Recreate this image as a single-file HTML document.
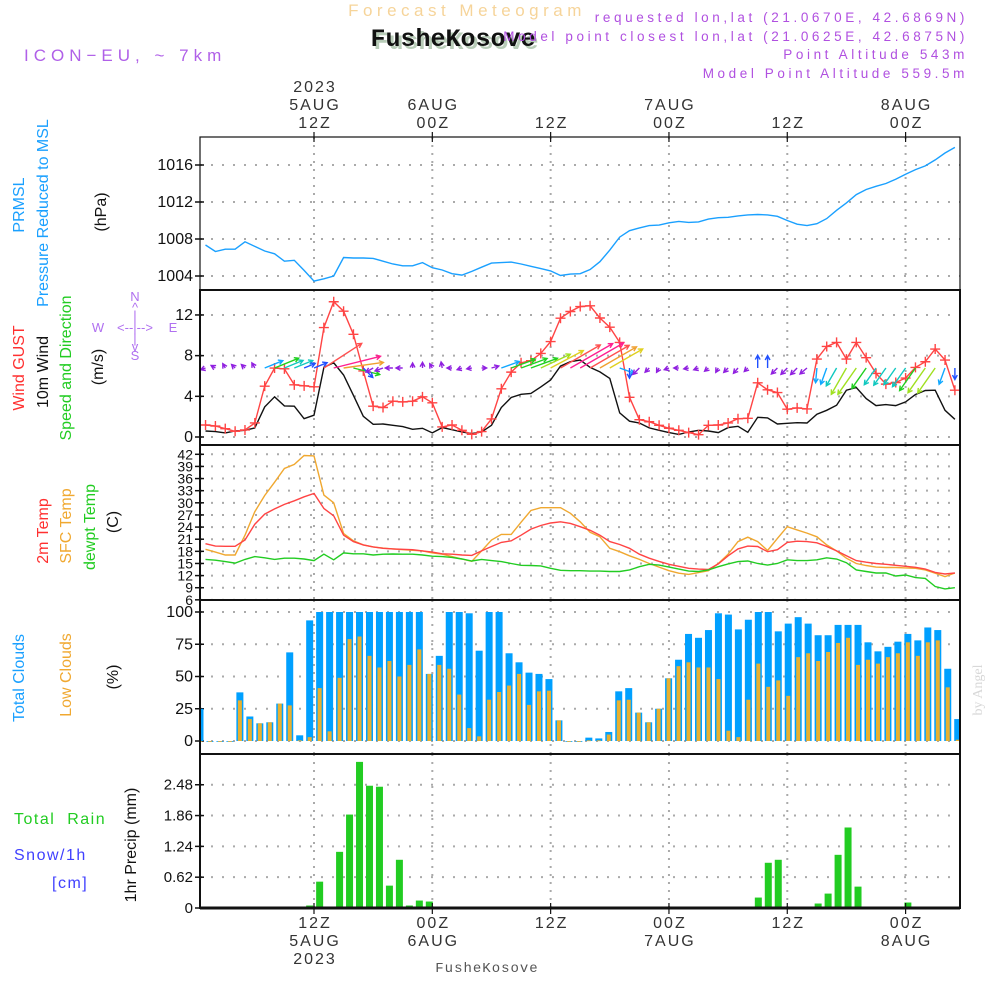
<!DOCTYPE html>
<html><head><meta charset="utf-8"><title>Forecast Meteogram FusheKosove</title>
<style>
html,body{margin:0;padding:0;background:#fff;}
svg{display:block;font-family:"Liberation Sans",sans-serif;}
</style></head>
<body>
<svg id="chart" width="1000" height="1000" viewBox="0 0 1000 1000" xmlns="http://www.w3.org/2000/svg">
<rect x="0" y="0" width="1000" height="1000" fill="#fff"/>
<!-- header -->
<text x="467" y="16" text-anchor="middle" font-size="17" fill="#f6d49a" letter-spacing="4.5">Forecast Meteogram</text>
<text x="456" y="49" text-anchor="middle" font-size="25" font-weight="bold" font-family="Liberation Mono, monospace" fill="#b8ccb8">FusheKosove</text>
<text x="453" y="46" text-anchor="middle" font-size="25" font-weight="bold" font-family="Liberation Mono, monospace" fill="#111">FusheKosove</text>
<text x="24" y="61" font-size="17" fill="#b060e8" letter-spacing="5">ICON−EU, ~ 7km</text>
<g fill="#b050e0" font-size="13.5" text-anchor="end" letter-spacing="3.6">
<text x="968" y="22">requested lon,lat (21.0670E, 42.6869N)</text>
<text x="968" y="41">Model point closest lon,lat (21.0625E, 42.6875N)</text>
<text x="968" y="59">Point Altitude 543m</text>
<text x="968" y="78">Model Point Altitude 559.5m</text>
</g>
<!-- left labels -->
<g font-size="16">
<text transform="translate(24,205) rotate(-90)" text-anchor="middle" fill="#1aa0ff">PRMSL</text>
<text transform="translate(48,213) rotate(-90)" text-anchor="middle" fill="#1aa0ff">Pressure Reduced to MSL</text>
<text transform="translate(106,212) rotate(-90)" text-anchor="middle" fill="#111">(hPa)</text>
<text transform="translate(24,368) rotate(-90)" text-anchor="middle" fill="#ff3030">Wind GUST</text>
<text transform="translate(48,372) rotate(-90)" text-anchor="middle" fill="#111">10m Wind</text>
<text transform="translate(71,368) rotate(-90)" text-anchor="middle" fill="#22cc22">Speed and Direction</text>
<text transform="translate(103,367) rotate(-90)" text-anchor="middle" fill="#111">(m/s)</text>
<text transform="translate(48,531) rotate(-90)" text-anchor="middle" fill="#ff3030">2m Temp</text>
<text transform="translate(71,526) rotate(-90)" text-anchor="middle" fill="#f0a830">SFC Temp</text>
<text transform="translate(95,527) rotate(-90)" text-anchor="middle" fill="#22cc22">dewpt Temp</text>
<text transform="translate(118,522) rotate(-90)" text-anchor="middle" fill="#111">(C)</text>
<text transform="translate(24,678) rotate(-90)" text-anchor="middle" fill="#1aa0ff">Total Clouds</text>
<text transform="translate(71,675) rotate(-90)" text-anchor="middle" fill="#f0a830">Low Clouds</text>
<text transform="translate(118,677) rotate(-90)" text-anchor="middle" fill="#111">(%)</text>
<text transform="translate(136,845) rotate(-90)" text-anchor="middle" fill="#111">1hr Precip (mm)</text>
<text x="14" y="824" fill="#22cc22" letter-spacing="1.5" xml:space="preserve">Total  Rain</text>
<text x="14" y="860" fill="#4040ff" letter-spacing="1.5">Snow/1h</text>
<text x="52" y="888" fill="#4040ff" letter-spacing="1.5">[cm]</text>
</g>
<g fill="#b070f0" font-size="13" text-anchor="middle">
<text x="135" y="301">N</text><text x="135" y="312">^</text><text x="135" y="320">|</text>
<text x="98" y="332">W</text><text x="135" y="332">&lt;--|--&gt;</text><text x="173" y="332">E</text>
<text x="135" y="343">|</text><text x="135" y="351">v</text><text x="135" y="360">S</text>
</g>
<text transform="translate(982,690) rotate(-90)" text-anchor="middle" font-size="14" fill="#d8d8d8" font-family="Liberation Serif, serif">by Angel</text>
<text x="487" y="972" text-anchor="middle" font-size="14" fill="#555" font-family="Liberation Mono, monospace" letter-spacing="1">FusheKosove</text>
<g id="layer"></g>
</svg>
<script>
// ---------- data ----------
const timeTickHours = [12, 24, 36, 48, 60, 72];
const topTickLabels = [["2023","5AUG","12Z"],["6AUG","00Z"],["12Z"],["7AUG","00Z"],["12Z"],["8AUG","00Z"]];
const bottomTickLabels = [["12Z","5AUG","2023"],["00Z","6AUG"],["12Z"],["00Z","7AUG"],["12Z"],["00Z","8AUG"]];
const pressure = [1007.35,1006.65,1006.9,1006.9,1007.7,1007.2,1006.7,1006.4,1005.6,1005.7,1004.6,1003.45,1003.7,1004,1006,1005.95,1005.95,1005.9,1005.6,1005.3,1005.1,1005.1,1005.45,1004.9,1004.65,1004.25,1004.1,1004.5,1004.95,1005.4,1005.45,1005.5,1005.3,1005.05,1004.8,1004.55,1004.05,1004.2,1004.25,1004.7,1005.55,1006.8,1008.2,1008.9,1009.2,1009.45,1009.5,1009.75,1009.9,1009.8,1009.85,1010.15,1010.3,1010.35,1010.5,1010.6,1010.65,1010.6,1010.45,1010,1009.6,1009.45,1009.65,1010.2,1011.1,1011.9,1012.8,1013.35,1013.7,1014,1014.45,1015,1015.5,1015.9,1016.55,1017.3,1017.9];
const pressureTicks = [1004, 1008, 1012, 1016];
const windGust = [1.18,1.08,0.82,0.56,0.69,1.38,5,6.78,6.7,5.13,5.03,4.93,10.76,13.3,12.37,10.1,6.5,3.03,2.9,3.52,3.45,3.52,3.95,3.36,0.99,1.18,0.66,0.26,0.53,1.78,4.74,6.38,7.3,7.5,8.22,9.38,11.68,12.34,12.83,12.9,11.7,10.8,9.3,3.9,1.7,1.5,1.15,0.86,0.66,0.43,0.23,1.15,1.18,1.38,1.8,1.84,5.33,4.64,4.37,2.73,2.86,2.76,7.66,8.9,9.3,7.66,9.3,7.8,6.25,5.2,5.36,5.8,6.84,7.4,8.65,7.57,4.6];
const wind10m = [0.59,0.53,0.4,0.59,0.66,0.89,2.96,3.95,3.06,3.03,1.8,2.14,6.84,7.3,6.1,4.1,2.04,1.25,1.28,1.15,1.02,0.76,0.86,0.4,0.92,0.72,0.49,0.33,0.49,1.15,2.9,3.88,4.2,4.28,4.93,5.6,6.97,7.4,7.57,6.84,6.4,5.76,2.37,1.55,1.38,0.89,0.66,0.43,0.26,0.49,0.66,0.59,0.43,0.92,1.05,0.46,1.94,1.88,1.28,1.35,1.41,1.38,2.24,2.63,3.13,4.6,4.87,3.78,3.09,3.19,3.09,3.45,4.18,4.57,4.6,2.63,1.74];
const windDirTo = [200,150,120,135,135,120,22,22,22,22,22,22,33,14,8,-14,-45,210,200,180,180,90,90,120,100,180,200,190,0,15,20,20,20,20,25,28,30,30,30,30,30,30,-20,270,225,225,240,200,180,190,200,220,240,225,230,225,90,90,225,225,225,220,265,250,240,240,235,235,235,235,235,235,235,235,235,250,270];
const windTicks = [0, 4, 8, 12];
const temp2m = [19.9,19.3,19.25,19.25,20.8,24.7,27.2,28.5,29.6,30.5,31.5,32.3,28.6,26.8,22,20.4,19.6,19.1,18.75,18.6,18.5,18.4,18.1,17.8,17.4,17.3,17.1,17,18.1,19.2,20.2,20.6,22,23.5,24.4,25,25.3,24.9,24.1,23.2,22,20.4,19.7,18.75,17.3,16.3,15.5,14.8,14.3,13.8,13.6,13.5,14.9,16.9,18.6,19.3,19.2,17.9,18.4,20.2,20.5,20.4,20.1,19.2,18.1,16.9,15.7,15.3,15,14.8,14.55,14.3,14.05,13.6,12.8,12.4,12.65];
const tempSfc = [18.5,17.8,17.1,17.1,22,27.8,31.8,35.1,38.5,39.5,41.7,41.6,31.9,30,22.4,20.6,19.6,19.1,18.8,18.6,18.4,18.25,18.1,17.6,17.3,16.7,16.1,15.5,18.1,20.8,22.2,22.2,25.2,28.1,28.8,28.8,28.8,27.4,25.3,22.7,21.6,18.75,17.9,16.9,16,15,14.1,13.2,12.6,12.3,12.75,13.2,15,17.3,20.4,21.5,20.4,18.2,21.2,24.1,23.3,22.5,21.6,19.6,18.1,16.3,15,14.5,14.1,14,14,13.9,13.8,13.4,12.6,11.75,12.65];
const dewpoint = [16,15.8,15.45,15.1,16,16.7,16.4,16,16.3,16.3,16.1,15.7,17.3,15.9,17.6,17.4,17.4,17.1,17.3,17.35,17.3,17.3,17.1,16.8,16.7,16.5,16.1,15.6,16,15.7,15.45,15,14.55,14.5,14.4,13.8,13.3,13.2,13.2,13.1,13.1,13,13,13.4,14.2,14.8,14.6,14.1,13.6,13.1,13,13.4,14.2,14.9,15.45,15.6,15,14.6,15,15.9,15.7,15.7,15.9,16.4,16.1,15.2,13.4,13,12.65,12.65,11.9,12.15,11.5,11.3,9.3,8.7,9];
const tempTicks = [42,39,36,33,30,27,24,21,18,15,12,9,6];
const totalClouds = [25,0,0,0,37.7,19,13.7,14.5,29,68.7,4.4,93.5,100,100,100,100,100,100,100,100,100,100,100,52,66,100,100,99,70,100,100,68,61,53,52,48,16,0,0,2.6,2,7,38.5,41,22,14.5,25,48.6,63,83,80,86,99,98,86.5,94,100,100,85,91,96,91,82,82,90,90,90,76.5,69.5,73,77,83,78,88,86,56,17];
const lowClouds = [0,0,0,0,31.5,17,13.7,14.5,29,27.6,0.5,3,41,7.5,49,79,81,66,57,62,50,59,71,52,59,56,36,10,3.6,32,38,43,52,28,38.5,39,16,0,0,0.5,0.5,5,31.5,32,22,14.5,25,48.6,58,61,57,57,48,8,3,32,60,42,47,35,65,68,62,69,76,80,59,63,60,65,68,76.5,66,76.5,78,41.6,1];
const cloudTicks = [0, 25, 50, 75, 100];
const precip = [0,0,0,0,0,0,0,0,0,0,0,0.05,0.53,0,1.13,1.88,2.94,2.46,2.44,0.45,0.97,0.05,0.15,0.13,0,0,0,0,0,0,0,0,0,0,0,0,0,0,0,0,0,0,0,0,0,0,0,0,0,0,0,0,0,0,0,0,0.21,0.91,0.97,0,0,0,0.09,0.29,1.07,1.62,0.43,0,0,0,0,0.11,0,0,0,0,0];
const precipTicks = [0, 0.62, 1.24, 1.86, 2.48];
const precipTickLabels = ["0","0.62","1.24","1.86","2.48"];

// ---------- scales ----------
const X0 = 200, X1 = 960;
function xh(h){ return 314 + (h - 12) * 9.86; }
function xb(i){ return 200 + 9.97 * i; }
function yP(p){ return 276 - (p - 1004) * 9.25; }
function yW(v){ return 437 - v * 10.17; }
function yT(t){ return 454.3 + (42 - t) * 4.043; }
function yC(c){ return 741 - c * 1.29; }
function yR(r){ return 908 - r * 49.7; }
const panels = [[137,290],[290,445],[445,600],[600,754],[754,908]];

const NS = "http://www.w3.org/2000/svg";
const layer = document.getElementById("layer");
function mk(tag, attrs, parent){
  const e = document.createElementNS(NS, tag);
  for (const k in attrs) e.setAttribute(k, attrs[k]);
  (parent || layer).appendChild(e);
  return e;
}
function clipRect(id, y0, y1){
  const cp = mk("clipPath", {id: id});
  mk("rect", {x: X0, y: y0, width: X1 - X0, height: y1 - y0}, cp);
}
panels.forEach((p, k) => clipRect("clip" + k, p[0], p[1]));

function hGrid(y){
  const l = mk("line", {x1: X0, x2: X1, y1: y, y2: y, stroke: "#aaa", "stroke-width": 2, "stroke-dasharray": "2,9"});
  
  
}
function tickLabel(y, txt, size){
  const t = mk("text", {x: 193, y: y + 5, "text-anchor": "end", "font-size": size || 16, fill: "#111"});
  t.textContent = txt;
  
  
  const tk = mk("line", {x1: X0 - 5, x2: X0 + 4, y1: y, y2: y, stroke: "#111", "stroke-width": 1.5});
  
  
}
panels.forEach(p => {
  timeTickHours.forEach(h => {
    const l = mk("line", {x1: xh(h), x2: xh(h), y1: p[0], y2: p[1], stroke: "#aaa", "stroke-width": 2, "stroke-dasharray": "2,6"});
    
    
  });
});
pressureTicks.forEach(v => { hGrid(yP(v)); tickLabel(yP(v), String(v)); });
windTicks.forEach(v => { hGrid(yW(v)); tickLabel(yW(v), String(v)); });
tempTicks.forEach(v => { hGrid(yT(v)); tickLabel(yT(v), String(v), 14); });
cloudTicks.forEach(v => { hGrid(yC(v)); tickLabel(yC(v), String(v)); });
precipTicks.forEach((v, i) => { hGrid(yR(v)); tickLabel(yR(v), precipTickLabels[i], 15); });

function line(values, yf, color, name, clip){
  const pts = values.map((v, i) => xh(i + 1).toFixed(1) + "," + yf(v).toFixed(1)).join(" ");
  const pl = mk("polyline", {points: pts, fill: "none", stroke: color, "stroke-width": 1.4, "clip-path": "url(#" + clip + ")"});
  
  
  return pl;
}

line(pressure, yP, "#1aa0ff", "pressure-line", "clip0");

line(wind10m, yW, "#111", "wind-10m-line", "clip1");
line(windGust, yW, "#ff4444", "wind-gust-line", "clip1");
windGust.forEach((v, i) => {
  const x = xh(i + 1), y = yW(v);
  const g = mk("path", {d: `M${x-5},${y}H${x+5}M${x},${y-5}V${y+5}`, stroke: "#ff4444", "stroke-width": 1.4, "clip-path": "url(#clip1)"});
  
  
});
function windColor(s){
  if (s < 1.5) return "#9020e0";
  if (s < 2.2) return "#2050ff";
  if (s < 3.0) return "#10a8ff";
  if (s < 3.6) return "#10c8c0";
  if (s < 4.3) return "#20d020";
  if (s < 5.0) return "#a0e020";
  if (s < 5.8) return "#e0d020";
  if (s < 6.8) return "#f0a030";
  if (s < 7.2) return "#ff5050";
  return "#ff2090";
}
wind10m.forEach((s, i) => {
  const x = xh(i + 1), y = 368;
  const a = windDirTo[i] * Math.PI / 180;
  const L = Math.max(5, s * 6.6);
  const x2 = x + L * Math.cos(a), y2 = y - L * Math.sin(a);
  const hl = 5, ha = 0.5;
  const b1x = x2 - hl * Math.cos(a - ha), b1y = y2 + hl * Math.sin(a - ha);
  const b2x = x2 - hl * Math.cos(a + ha), b2y = y2 + hl * Math.sin(a + ha);
  const c = windColor(s);
  const p = mk("path", {d: `M${x.toFixed(1)},${y}L${x2.toFixed(1)},${y2.toFixed(1)}M${b1x.toFixed(1)},${b1y.toFixed(1)}L${x2.toFixed(1)},${y2.toFixed(1)}L${b2x.toFixed(1)},${b2y.toFixed(1)}`, stroke: c, "stroke-width": 1.4, fill: "none", "clip-path": "url(#clip1)"});
  
  
});

line(tempSfc, yT, "#f0a830", "sfc-temp-line", "clip2");
line(temp2m, yT, "#ff4444", "temp-2m-line", "clip2");
line(dewpoint, yT, "#22cc22", "dewpoint-line", "clip2");

totalClouds.forEach((v, i) => {
  const x = xb(i);
  const r = mk("rect", {x: x - 3.5, y: yC(v), width: 7, height: Math.max(0.8, yC(0) - yC(v)), fill: "#00a0ff", "clip-path": "url(#clip3)"});
  
  
});
lowClouds.forEach((v, i) => {
  const x = xb(i);
  const r = mk("rect", {x: x - 2, y: yC(v), width: 4, height: Math.max(0.8, yC(0) - yC(v)), fill: "#e8b030", "clip-path": "url(#clip3)"});
  
  
});

precip.forEach((v, i) => {
  if (v <= 0) return;
  const x = xb(i);
  const r = mk("rect", {x: x - 3.5, y: yR(v), width: 7, height: yR(0) - yR(v), fill: "#22cc22", "clip-path": "url(#clip4)"});
  
  
});
const base = mk("line", {x1: X0, x2: X1, y1: 908, y2: 908, stroke: "#111", "stroke-width": 1.5, "stroke-dasharray": "4,3"});



panels.forEach((p, k) => {
  const r = mk("rect", {x: X0, y: p[0], width: X1 - X0, height: p[1] - p[0], fill: "none", stroke: "#111", "stroke-width": k === 0 ? 1.2 : 2});
  
  
});
const bottomEdge = mk("line", {x1: X0, x2: X1, y1: 908, y2: 908, stroke: "#111", "stroke-width": 3});



timeTickHours.forEach((h, i) => {
  const x = xh(h);
  const tk = mk("line", {x1: x, x2: x, y1: 132, y2: 142, stroke: "#111", "stroke-width": 1.2});
  
  
  const tb = mk("line", {x1: x, x2: x, y1: 903, y2: 914, stroke: "#111", "stroke-width": 1.2});
  
  
  const top = topTickLabels[i];
  top.forEach((s, j) => {
    const t = mk("text", {x: x + 1, y: 128 - (top.length - 1 - j) * 18, "text-anchor": "middle", "font-size": 16, fill: "#333", "letter-spacing": 2});
    t.textContent = s;
    
    
  });
  bottomTickLabels[i].forEach((s, j) => {
    const t = mk("text", {x: x + 1, y: 928 + j * 18, "text-anchor": "middle", "font-size": 16, fill: "#333", "letter-spacing": 2});
    t.textContent = s;
    
    
  });
});
</script>
</body></html>
